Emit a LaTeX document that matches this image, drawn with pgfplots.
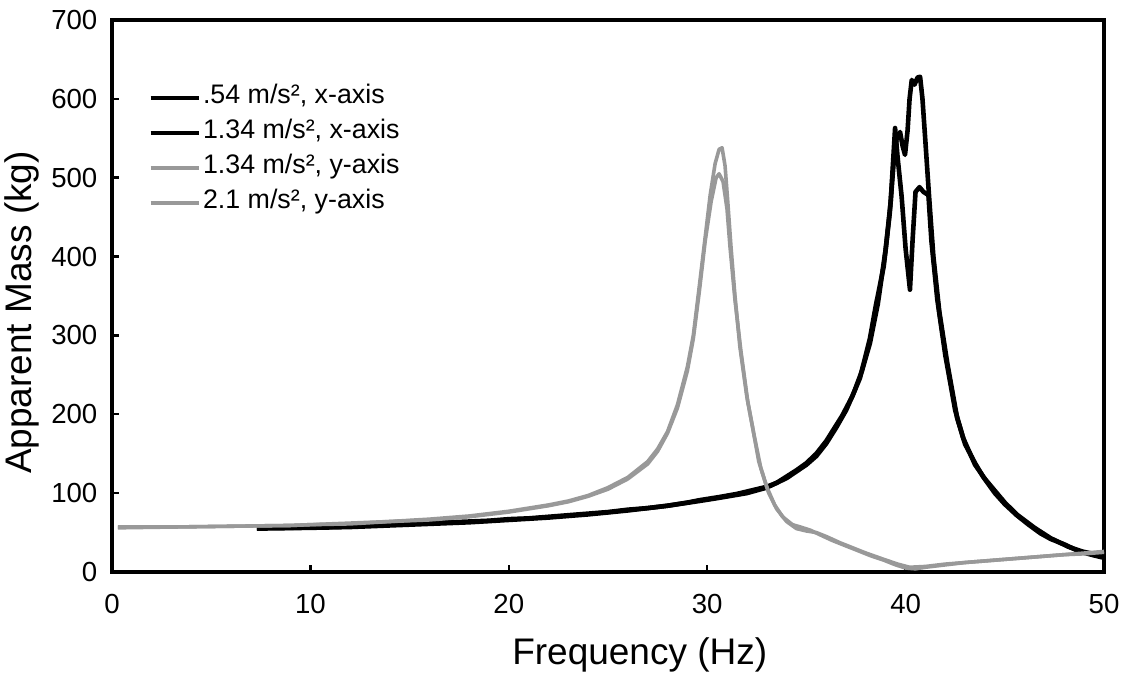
\documentclass[border=0pt]{standalone}
\usepackage{fontspec}
\setmainfont{Liberation Sans}
\usepackage{pgfplots}
\pgfplotsset{compat=1.18}
\definecolor{curvegray}{gray}{0.6}
\begin{document}
\begin{tikzpicture}
\begin{axis}[
  scale only axis,
  width=496pt, height=276pt,
  xmin=0, xmax=50, ymin=0, ymax=700,
  xtick={0,10,20,30,40,50},
  ytick={0,100,200,300,400,500,600,700},
  tick pos=left,
  tick align=inside,
  major tick length=3.5pt,
  axis line style={line width=1.6pt},
  every tick/.style={line width=1.2pt, black},
  /pgf/number format/assume math mode=true,
  tick label style={font=\fontsize{13.8}{16}\selectfont},
  xticklabel style={yshift=-7.5pt},
  yticklabel style={xshift=-3.8pt},
  xlabel={Frequency (Hz)},
  ylabel={Apparent Mass (kg)},
  label style={font=\fontsize{18.5}{22}\selectfont},
  xlabel style={at={(axis description cs:0.532,-0.150)}, anchor=center},
  ylabel style={at={(axis description cs:-0.0905,0.47)}, anchor=center},
  legend style={at={(axis description cs:0.0363,0.885)}, anchor=north west,
    draw=none, fill=none, inner sep=0pt, row sep=3.5pt, column sep=0pt,
    font=\fontsize{13.4}{16}\selectfont,
    nodes={text height=9pt, text depth=3pt, inner sep=1pt}},
  legend cell align=left,
  legend image code/.code={\draw[#1] (0pt,0pt) -- (24pt,0pt);},
]
% .54 m/s2, x-axis
\addplot[black, line width=2.3pt, line join=round] coordinates {
(7.3,55) (10,56) (12,57) (14,59) (16,61) (18,63) (20,66) (22,69) (24,73) (26,78)
(28,84) (29.6,90) (30.6,94) (32,100) (33,107) (34,119) (35,136) (35.5,147) (36,163)
(36.5,183) (37,205) (37.4,228) (37.8,255) (38.2,290) (38.6,340) (39.0,410) (39.25,470)
(39.47,563) (39.6,525) (39.8,476) (40.0,410) (40.22,358) (40.35,420) (40.5,482)
(40.7,488) (40.9,482) (41.15,478) (41.3,420) (41.6,345) (42.0,275) (42.5,205)
(42.9,170) (43.5,136) (44,118) (45,88) (45.6,73) (46.5,56) (47.3,43) (48.2,32)
(48.9,26) (50,20)};
\addlegendentry{.54 m/s², x-axis}
% 1.34 m/s2, x-axis
\addplot[black, line width=2.3pt, line join=round] coordinates {
(7.3,56) (9,56) (10,57) (11,57) (12,58) (13,59) (14,60) (15,61) (16,62) (17,63)
(18,64) (19,65) (20,67) (21,68) (22,70) (23,72) (24,74) (25,76) (26,79) (27,81)
(28,84) (29,88) (29.6,91) (30.6,95) (31.5,99) (32,102) (33,108) (33.5,113) (34,121)
(34.5,129) (35,138) (35.5,150) (36,166) (36.4,182) (36.8,198) (37.3,222) (37.7,246)
(38.2,296) (38.5,338) (38.9,388) (39.2,455) (39.4,520) (39.55,550) (39.72,558)
(39.85,540) (39.97,529) (40.1,560) (40.2,600) (40.31,624) (40.45,618) (40.6,627)
(40.73,628) (40.85,600) (41.0,545) (41.2,470) (41.4,400) (41.7,330) (42.1,265)
(42.6,195) (43.0,162) (43.5,138) (43.9,121) (44.5,100) (45,86) (45.6,72) (46.2,60)
(46.8,49) (47.3,42) (48,35) (48.5,29) (48.9,25) (49.5,21) (50,18)};
\addlegendentry{1.34 m/s², x-axis}
% 1.34 m/s2, y-axis
\addplot[curvegray, line width=1.8pt, line join=round] coordinates {
(0.3,56) (3,57) (6,58) (9,59) (10,60) (12,62) (14,64) (16,67) (17,69) (18,71)
(19,74) (20,77) (21,81) (22,85) (23,90) (24,97) (25,107) (26,120) (27,140)
(27.5,156) (28,178) (28.5,212) (29,260) (29.3,300) (29.6,362) (29.9,425)
(30.15,478) (30.4,518) (30.6,536) (30.75,538) (30.9,515) (31.05,465) (31.2,412)
(31.4,350) (31.65,285) (32,222) (32.3,182) (32.6,140) (33,108) (33.4,85) (33.8,70)
(34.3,60) (34.7,57) (35.2,53) (35.7,47) (36.3,40) (37,33) (37.6,27) (38.3,20)
(38.9,15) (39.5,9) (40,5) (40.5,4) (41,6) (42,9) (43,12) (44,14) (45,16) (46,18)
(47,20) (48,22) (49,24) (50,26)};
\addlegendentry{1.34 m/s², y-axis}
% 2.1 m/s2, y-axis
\addplot[curvegray, line width=1.8pt, line join=round] coordinates {
(0.3,57) (3,57) (6,58) (9,59) (10,60) (12,61) (14,64) (16,66) (18,70) (20,76)
(21,80) (22,84) (23,89) (24,96) (25,105) (26,118) (27,137) (27.5,153) (28,176)
(28.5,208) (29,255) (29.3,296) (29.6,355) (29.9,420) (30.2,470) (30.45,500)
(30.6,505) (30.8,495) (31.0,460) (31.15,412) (31.4,345) (31.7,280) (32.05,215)
(32.35,175) (32.7,132) (33.1,100) (33.5,80) (34,64) (34.5,55) (35,52) (35.5,50)
(36,45) (36.7,37) (37.4,30) (38,24) (38.9,16) (39.6,10) (40.2,6) (41,7) (42,10)
(43,12) (44,14) (45,16) (46,18) (47,20) (48,22) (49,23) (50,25)};
\addlegendentry{2.1 m/s², y-axis}
\end{axis}
\pgfresetboundingbox
\path ([xshift=-56pt,yshift=-50.5pt]current axis.south west) rectangle ([xshift=14pt,yshift=10pt]current axis.north east);
\end{tikzpicture}
\end{document}
